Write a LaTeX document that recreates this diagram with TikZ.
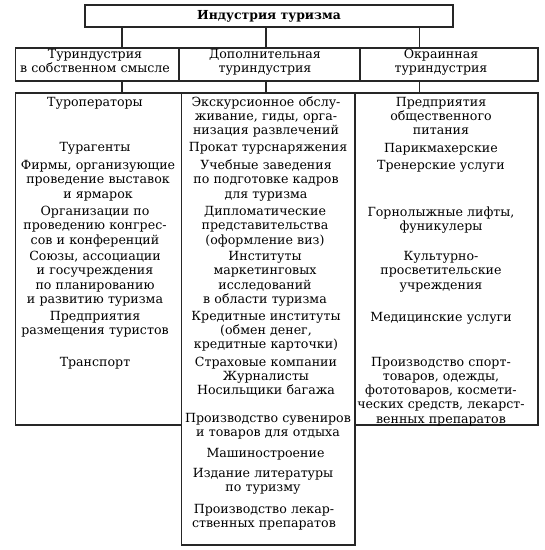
\documentclass[tikz,border=0pt]{standalone}
\usepackage{fontspec}
\setmainfont{DejaVu Serif}
\begin{document}
\begin{tikzpicture}[x=1pt,y=-1pt,
  box/.style={draw=black!85, line width=1.1pt, rectangle, inner sep=0pt, outer sep=0pt},
  ln/.style={draw=black!85, line width=1.1pt},
  txt/.style={anchor=base, inner sep=0pt, text width=240pt, align=center, font=\fontsize{12.6}{14.2}\selectfont},
  ttl/.style={font=\fontsize{12.4}{14.2}\selectfont\bfseries}
]
\fill[white] (0,0) rectangle (545,550);
\useasboundingbox (0,0) rectangle (545,550);
% connector x positions
\coordinate (k1) at (122,0);
\coordinate (k2) at (266,0);
\coordinate (k3) at (419.5,0);
% title
\node[box, ttl, minimum width=368pt, minimum height=22pt] (t) at (269,16) {Индустрия туризма};
% row 2
\node[box, minimum width=163.5pt, minimum height=33pt] (r1) at (97.25,64.5) {};
\node[box, minimum width=181pt, minimum height=33pt] (r2) at (269.5,64.5) {};
\node[box, minimum width=178pt, minimum height=33pt] (r3) at (449,64.5) {};
\node[txt] (r1t) at (95,58) {Туриндустрия\\в собственном смысле};
\node[txt] (r2t) at (265,58) {Дополнительная\\туриндустрия};
\node[txt] (r3t) at (441,58) {Окраинная\\туриндустрия};
% row 3
\node[box, minimum width=166.2pt, minimum height=332pt] (c1) at (98.6,259) {};
\node[box, minimum width=173.3pt, minimum height=452pt] (c2) at (268.35,319) {};
\node[box, minimum width=183pt, minimum height=332pt] (c3) at (446.5,259) {};
% connectors
\draw[ln] (t.south -| k1) -- (r1.north -| k1);
\draw[ln] (t.south -| k2) -- (r2.north -| k2);
\draw[ln] (t.south -| k3) -- (r3.north -| k3);
\draw[ln] (r1.south -| k1) -- (c1.north -| k1);
\draw[ln] (r2.south -| k2) -- (c2.north -| k2);
\draw[ln] (r3.south -| k3) -- (c3.north -| k3);
% left column
\node[txt] (l1) at (95,106.3) {Туроператоры};
\node[txt] (l2) at (95,151.3) {Турагенты};
\node[txt] (l3) at (98,169.7) {Фирмы, организующие\\проведение выставок\\и ярмарок};
\node[txt] (l4) at (95,215.7) {Организации по\\проведению конгрес-\\сов и конференций};
\node[txt] (l5) at (95,260.7) {Союзы, ассоциации\\и госучреждения\\по планированию\\и развитию туризма};
\node[txt] (l6) at (95,320.3) {Предприятия\\размещения туристов};
\node[txt] (l7) at (95,366.3) {Транспорт};
% middle column
\node[txt] (m1) at (266,106.3) {Экскурсионное обслу-\\живание, гиды, орга-\\низация развлечений};
\node[txt] (m2) at (268,151.3) {Прокат турснаряжения};
\node[txt] (m3) at (266,169.7) {Учебные заведения\\по подготовке кадров\\для туризма};
\node[txt] (m4) at (265,215.7) {Дипломатические\\представительства\\(оформление виз)};
\node[txt] (m5) at (265,260.7) {Институты\\маркетинговых\\исследований\\в области туризма};
\node[txt] (m6) at (266,320.3) {Кредитные институты\\(обмен денег,\\кредитные карточки)};
\node[txt] (m7) at (266,366.3) {Страховые компании\\Журналисты\\Носильщики багажа};
\node[txt] (m8) at (268,422.3) {Производство сувениров\\и товаров для отдыха};
\node[txt] (m9) at (265.5,457) {Машиностроение};
\node[txt] (m10) at (263,477) {Издание литературы\\по туризму};
\node[txt] (m11) at (264,513) {Производство лекар-\\ственных препаратов};
% right column
\node[txt] (q1) at (441,106.3) {Предприятия\\общественного\\питания};
\node[txt] (q2) at (441,152) {Парикмахерские};
\node[txt] (q3) at (441,169.7) {Тренерские услуги};
\node[txt] (q4) at (441,216.3) {Горнолыжные лифты,\\фуникулеры};
\node[txt] (q5) at (441,260.7) {Культурно-\\просветительские\\учреждения};
\node[txt] (q6) at (441,321.3) {Медицинские услуги};
\node[txt] (q7) at (441,366.3) {Производство спорт-\\товаров, одежды,\\фототоваров, космети-\\ческих средств, лекарст-\\венных препаратов};
\end{tikzpicture}
\end{document}
